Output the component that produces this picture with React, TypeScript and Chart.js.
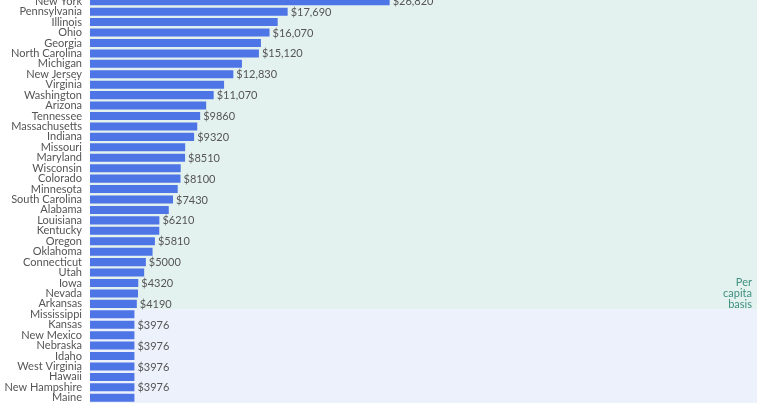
import React, { useEffect, useRef } from "react";
import { Chart, registerables } from "chart.js";

Chart.register(...registerables);

const states = [
  "New York", "Pennsylvania", "Illinois", "Ohio", "Georgia", "North Carolina",
  "Michigan", "New Jersey", "Virginia", "Washington", "Arizona", "Tennessee",
  "Massachusetts", "Indiana", "Missouri", "Maryland", "Wisconsin", "Colorado",
  "Minnesota", "South Carolina", "Alabama", "Louisiana", "Kentucky", "Oregon",
  "Oklahoma", "Connecticut", "Utah", "Iowa", "Nevada", "Arkansas",
  "Mississippi", "Kansas", "New Mexico", "Nebraska", "Idaho", "West Virginia",
  "Hawaii", "New Hampshire", "Maine",
];

const amounts = [
  26820, 17690, 16800, 16070, 15300, 15120,
  13600, 12830, 12000, 11070, 10400, 9860,
  9600, 9320, 8520, 8510, 8120, 8100,
  7850, 7430, 7050, 6210, 6200, 5810,
  5600, 5000, 4850, 4320, 4300, 4190,
  3976, 3976, 3976, 3976, 3976, 3976,
  3976, 3976, 3976,
];

const valueLabels = [
  "$26,820", "$17,690", "", "$16,070", "", "$15,120",
  "", "$12,830", "", "$11,070", "", "$9860",
  "", "$9320", "", "$8510", "", "$8100",
  "", "$7430", "", "$6210", "", "$5810",
  "", "$5000", "", "$4320", "", "$4190",
  "", "$3976", "", "$3976", "", "$3976",
  "", "$3976", "",
];

const lastPerCapitaState = "Arkansas";
const noteLines = ["Per", "capita", "basis"];

const FONT = "Lato, 'Open Sans', sans-serif";

export default function App() {
  const ref = useRef<HTMLCanvasElement | null>(null);

  useEffect(() => {
    if (!ref.current) return;
    const bgPlugin = {
      id: "bands",
      beforeDatasetsDraw(chart: any) {
        const { ctx, chartArea, scales } = chart;
        const y = scales.y;
        const idx = states.indexOf(lastPerCapitaState);
        const split = (y.getPixelForValue(idx) + y.getPixelForValue(idx + 1)) / 2;
        ctx.save();
        ctx.fillStyle = "#e4f2ef";
        ctx.fillRect(chartArea.left, chartArea.top, chartArea.right - chartArea.left, split - chartArea.top);
        ctx.fillStyle = "#edf1fb";
        ctx.fillRect(chartArea.left, split, chartArea.right - chartArea.left, chartArea.bottom - split);
        ctx.restore();
      },
      afterDatasetsDraw(chart: any) {
        const { ctx, chartArea, scales } = chart;
        const meta = chart.getDatasetMeta(0);
        ctx.save();
        ctx.font = `11px ${FONT}`;
        ctx.fillStyle = "#555555";
        ctx.textAlign = "left";
        ctx.textBaseline = "middle";
        meta.data.forEach((bar: any, i: number) => {
          const t = valueLabels[i];
          if (t) ctx.fillText(t, bar.x + 3, bar.y + 0.5);
        });
        const y = scales.y;
        const idx = states.indexOf(lastPerCapitaState);
        const split = (y.getPixelForValue(idx) + y.getPixelForValue(idx + 1)) / 2;
        ctx.font = `11px ${FONT}`;
        ctx.fillStyle = "#3f8f80";
        ctx.textAlign = "right";
        ctx.textBaseline = "middle";
        const lh = 11;
        noteLines.forEach((l, i) => {
          ctx.fillText(l, chartArea.right - 5, split - 5 - (noteLines.length - 1 - i) * lh);
        });
        ctx.restore();
      },
    };

    const chart = new Chart(ref.current, {
      type: "bar",
      data: {
        labels: states,
        datasets: [
          {
            data: amounts,
            backgroundColor: "#4e75e6",
            borderWidth: 0,
            barPercentage: 0.77,
            categoryPercentage: 1,
          },
        ],
      },
      options: {
        indexAxis: "y",
        animation: false,
        responsive: false,
        maintainAspectRatio: false,
        layout: { padding: { left: 0, right: 11, top: 0, bottom: 0 } },
        plugins: { legend: { display: false }, tooltip: { enabled: false } },
        scales: {
          x: { display: false, min: 0, max: 59700 },
          y: {
            grid: { display: false, drawTicks: false },
            border: { display: false },
            ticks: {
              autoSkip: false,
              padding: 8,
              color: "#555555",
              font: { family: FONT, size: 11 },
            },
            afterFit(scale: any) {
              scale.width = 90;
              scale.paddingTop = 0;
              scale.paddingBottom = 0;
            },
          },
        },
      },
      plugins: [bgPlugin],
    });
    return () => chart.destroy();
  }, []);

  return (
    <div style={{ position: "absolute", left: 0, top: -4, width: 768, height: 407, background: "#fff" }}>
      <canvas ref={ref} width={768} height={407} style={{ display: "block" }} />
    </div>
  );
}
